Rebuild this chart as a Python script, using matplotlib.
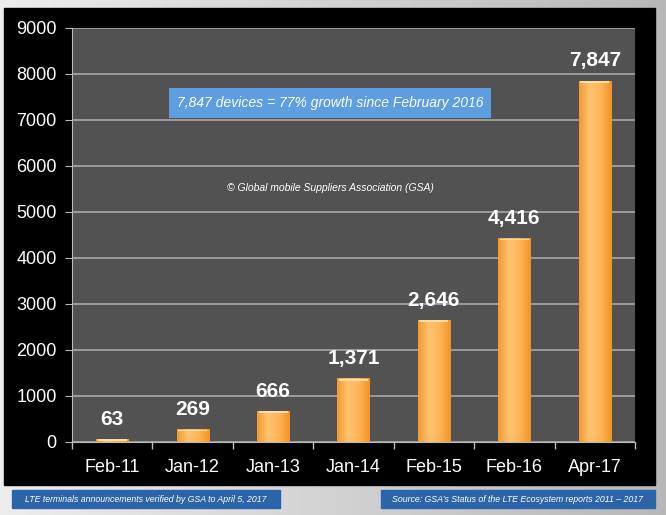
import numpy as np
import matplotlib
matplotlib.use("Agg")
import matplotlib.pyplot as plt
from matplotlib.patches import Rectangle

plt.rcParams['font.family'] = ['Liberation Sans', 'DejaVu Sans']

# data
categories = ['Feb-11', 'Jan-12', 'Jan-13', 'Jan-14', 'Feb-15', 'Feb-16', 'Apr-17']
devices = [63, 269, 666, 1371, 2646, 4416, 7847]
yticks = [0, 1000, 2000, 3000, 4000, 5000, 6000, 7000, 8000, 9000]

W, H = 666, 515
fig = plt.figure(figsize=(W / 100, H / 100), dpi=100)

# light grey gradient background behind everything
bg = fig.add_axes([0, 0, 1, 1], zorder=-10)
grad = np.linspace(0.93, 0.72, 256)[None, :]
bg.imshow(np.dstack([grad, grad, grad]), aspect='auto', extent=[0, 1, 0, 1])
bg.add_patch(Rectangle((4 / W, 1 - 485 / H), 651 / W, 477 / H, color='black'))
bg.set_xlim(0, 1)
bg.set_ylim(0, 1)
bg.axis('off')

# plot area
left, right, top, bottom = 72, 635, 28, 442
ax = fig.add_axes([left / W, 1 - bottom / H, (right - left) / W, (bottom - top) / H])
ax.set_facecolor('#525252')

x = np.arange(len(categories))
bw = 0.4
cmap = matplotlib.colors.LinearSegmentedColormap.from_list(
    'bar', ['#f39a30', '#ffc370', '#fdb556', '#f29428'])
gradient = np.linspace(0, 1, 64)[None, :]
for xi, v in zip(x, devices):
    ax.imshow(gradient, cmap=cmap, aspect='auto', zorder=3,
              extent=[xi - bw / 2, xi + bw / 2, 0, v])
    ax.add_patch(Rectangle((xi - bw / 2 + 0.02, v - 35), bw - 0.04, 35,
                           color='#ffdca0', zorder=4, lw=0))
    ax.text(xi, v + 230, f'{v:,}', ha='center', va='bottom', color='white',
            fontsize=15, fontweight='bold', zorder=5)

ax.set_xlim(-0.5, len(categories) - 0.5)
ax.set_ylim(0, 9000)
ax.set_yticks(yticks)
ax.set_yticklabels([str(t) for t in yticks], color='white', fontsize=13)
ax.set_xticks(x)
ax.set_xticklabels(categories, color='white', fontsize=13)
ax.set_xticks(np.arange(len(categories) + 1) - 0.5, minor=True)
ax.tick_params(axis='x', which='major', length=0, pad=12)
ax.tick_params(axis='x', which='minor', length=5, color='#bbbbbb', width=1)
ax.tick_params(axis='y', length=5, color='#bbbbbb', pad=6)
ax.grid(axis='y', color='#a8a8a8', lw=1.2, zorder=1)
ax.set_axisbelow(True)
for s in ['top', 'right']:
    ax.spines[s].set_visible(False)
for s in ['left', 'bottom']:
    ax.spines[s].set_color('#bbbbbb')

# annotations
fig.text(330 / W, 1 - 103 / H, '7,847 devices = 77% growth since February 2016',
         ha='center', va='center', color='white', fontsize=10, style='italic',
         bbox=dict(boxstyle='square,pad=0.55', fc='#5c9ee0', ec='none'))
fig.text(330 / W, 1 - 188 / H, '\u00a9 Global mobile Suppliers Association (GSA)',
         ha='center', va='center', color='white', fontsize=7.5, style='italic')

# footer boxes
bg.add_patch(Rectangle((12 / W, 1 - 508 / H), 268 / W, 18 / H, color='#2b64a8'))
bg.add_patch(Rectangle((381 / W, 1 - 508 / H), 274 / W, 18 / H, color='#2b64a8'))
fig.text(146 / W, 1 - 499 / H, 'LTE terminals announcements verified by GSA to April 5, 2017',
         ha='center', va='center', color='white', fontsize=6.3, style='italic')
fig.text(518 / W, 1 - 499 / H, "Source: GSA\u2019s Status of the LTE Ecosystem reports 2011 \u2013 2017",
         ha='center', va='center', color='white', fontsize=6.3, style='italic')

fig.savefig('out.png', dpi=100)
